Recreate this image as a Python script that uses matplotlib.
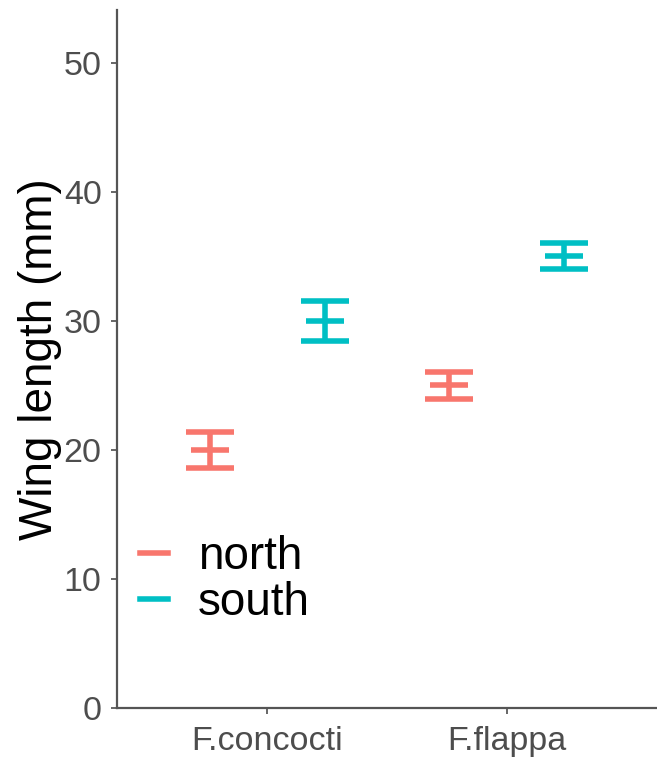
import matplotlib.pyplot as plt
import numpy as np
from matplotlib.lines import Line2D

plt.rcParams['font.family'] = ['Liberation Sans', 'DejaVu Sans']

species = ['F.concocti', 'F.flappa']
sites = ['north', 'south']
colors = {'north': '#F8766D', 'south': '#00BFC4'}
means = {'north': [20.0, 25.0], 'south': [30.0, 35.0]}
errors = {'north': [1.4, 1.05], 'south': [1.55, 1.0]}
offsets = {'north': -0.24, 'south': 0.24}

fig = plt.figure(figsize=(6.57, 7.58), dpi=100)
ax = fig.add_axes([0.178, 0.066, 0.822, 0.921])

x = np.arange(1, len(species) + 1)
for site in sites:
    ax.errorbar(x + offsets[site], means[site], yerr=errors[site],
                fmt='_', color=colors[site], markersize=27, markeredgewidth=4,
                elinewidth=4, capsize=17.5, capthick=4, label=site)

ax.set_xlim(0.372, 2.628)
ax.set_ylim(0, 54.1)
ax.set_xticks(x)
ax.set_xticklabels(species)
ax.set_yticks([0, 10, 20, 30, 40, 50])
ax.tick_params(labelsize=24.5, colors='#4D4D4D', length=4, width=1.2)
ax.tick_params(axis='y', pad=7)
ax.tick_params(axis='x', pad=9)
ax.set_ylabel('Wing length (mm)', fontsize=33, color='black', labelpad=1)
for side in ['top', 'right']:
    ax.spines[side].set_visible(False)
for side in ['left', 'bottom']:
    ax.spines[side].set_color('#555555')
    ax.spines[side].set_linewidth(1.6)

handles = [Line2D([], [], color=colors[s], lw=4) for s in sites]
ax.legend(handles, sites, fontsize=33, frameon=False, loc='lower left',
          bbox_to_anchor=(0.0, 0.086), handlelength=0.62, handletextpad=0.65,
          labelspacing=0.05, borderaxespad=0.1)

fig.savefig('out.png', dpi=100)
